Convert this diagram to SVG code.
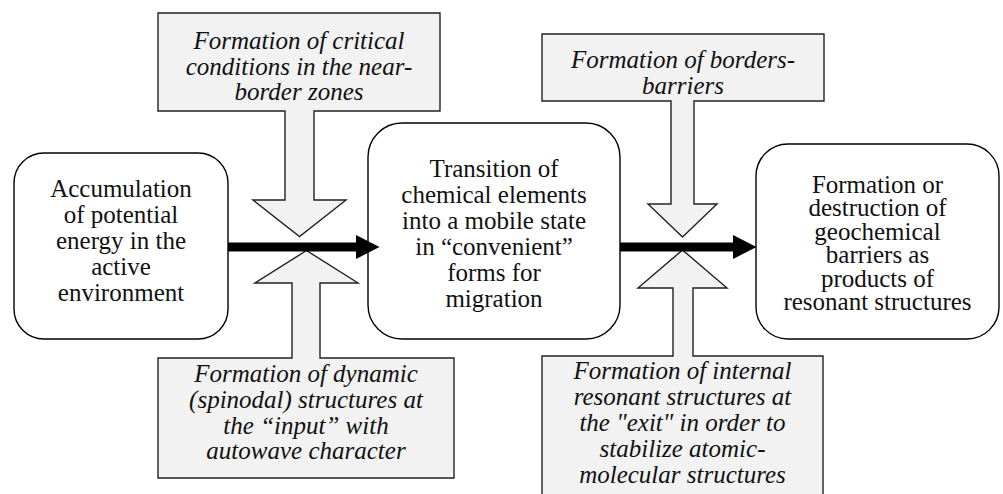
<svg xmlns="http://www.w3.org/2000/svg" width="1003" height="494" viewBox="0 0 1003 494">
  <style>
    .node { fill: #ffffff; stroke: #000000; stroke-width: 1.4; }
    .callout { fill: #f2f2f2; stroke: #222222; stroke-width: 1.4; stroke-linejoin: miter; }
    text { font-size: 25px; fill: #111111; text-anchor: middle; }
    .ti { font-style: italic; }
    .conn { fill: none; stroke: #000000; stroke-width: 9; }
  </style>
  <defs>
    <marker id="head" markerUnits="userSpaceOnUse" markerWidth="24" markerHeight="24" viewBox="0 0 24 24" refX="0" refY="12" orient="auto">
      <path d="M0,0 L23.5,12 L0,24 Z" fill="#000000"/>
    </marker>
  </defs>

  <g id="callout-top-left" font-family="'Liberation Serif', 'Times New Roman', serif">
    <path class="callout" d="M158,13 H440 V111 H314 V200 H346 L299.5,236.5 L253,200 H285 V111 H158 Z"/>
    <text class="ti" x="299" y="49">Formation of critical</text>
    <text class="ti" x="299" y="75">conditions in the near-</text>
    <text class="ti" x="299" y="100">border zones</text>
  </g>

  <g id="callout-bottom-left" font-family="'Liberation Serif', 'Times New Roman', serif">
    <path class="callout" d="M158,358 H292 V283 H255 L306.5,250.5 L358,283 H320 V358 H454 V478 H158 Z"/>
    <text class="ti" x="306" y="382">Formation of dynamic</text>
    <text class="ti" x="306" y="408">(spinodal) structures at</text>
    <text class="ti" x="306" y="434">the “input” with</text>
    <text class="ti" x="306" y="459">autowave character</text>
  </g>

  <g id="callout-top-right" font-family="'Liberation Serif', 'Times New Roman', serif">
    <path class="callout" d="M542,34 H824 V101 H694 V204 H717 L682.5,237 L648,204 H671 V101 H542 Z"/>
    <text class="ti" x="683" y="68">Formation of borders-</text>
    <text class="ti" x="683" y="94">barriers</text>
  </g>

  <g id="callout-bottom-right" font-family="'Liberation Serif', 'Times New Roman', serif">
    <path class="callout" d="M542,500 V356 H673 V288 H638 L682.5,250 L727,288 H693 V356 H823 V500"/>
    <text class="ti" x="682.5" y="379">Formation of internal</text>
    <text class="ti" x="682.5" y="405">resonant structures at</text>
    <text class="ti" x="682.5" y="431">the "exit" in order to</text>
    <text class="ti" x="682.5" y="457">stabilize atomic-</text>
    <text class="ti" x="682.5" y="483">molecular structures</text>
  </g>

  <g id="node-accumulation" font-family="'Liberation Serif', 'Times New Roman', serif">
    <rect class="node" x="14" y="153" width="214" height="186" rx="30" ry="30"/>
    <text x="121" y="196.5">Accumulation</text>
    <text x="121" y="222.5">of potential</text>
    <text x="121" y="248.5">energy in the</text>
    <text x="121" y="274.5">active</text>
    <text x="121" y="300.5">environment</text>
  </g>

  <g id="node-transition" font-family="'Liberation Serif', 'Times New Roman', serif">
    <rect class="node" x="368" y="123" width="252" height="216" rx="34" ry="34"/>
    <text x="494" y="177">Transition of</text>
    <text x="494" y="203">chemical elements</text>
    <text x="494" y="229">into a mobile state</text>
    <text x="494" y="255">in “convenient”</text>
    <text x="494" y="281">forms for</text>
    <text x="494" y="307">migration</text>
  </g>

  <g id="node-barriers" font-family="'Liberation Serif', 'Times New Roman', serif">
    <rect class="node" x="756" y="144" width="243" height="195" rx="32" ry="32"/>
    <text x="877.5" y="192.5">Formation or</text>
    <text x="877.5" y="216">destruction of</text>
    <text x="877.5" y="239.5">geochemical</text>
    <text x="877.5" y="263">barriers as</text>
    <text x="877.5" y="286.5">products of</text>
    <text x="877.5" y="310">resonant structures</text>
  </g>

  <g id="connectors">
    <path class="conn" d="M228,247 H356" marker-end="url(#head)"/>
    <path class="conn" d="M620,247 H733" marker-end="url(#head)"/>
  </g>
</svg>
